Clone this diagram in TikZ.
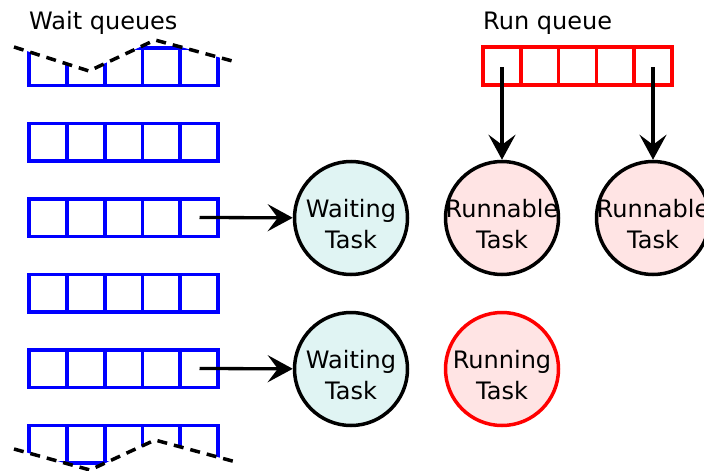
\documentclass[tikz,border=0pt]{standalone}
\usepackage{fontspec}
\setmainfont{DejaVu Sans}
\usetikzlibrary{arrows.meta}
\definecolor{waitfill}{HTML}{E0F4F3}
\definecolor{runfill}{HTML}{FFE4E4}

\begin{document}
\begin{tikzpicture}[x=1pt, y=-1pt, >={Stealth[length=25pt, width=27pt, inset=10pt]},
  font=\fontsize{24}{31}\selectfont,
  cell/.style={blue, line width=3.8pt},
  runcell/.style={red, line width=3.5pt},
  tear/.style={line width=3.5pt, dash pattern=on 10pt off 7pt},
  link/.style={->, line width=3.3pt},
  task/.style={circle, draw, line width=3.5pt, minimum size=113pt, inner sep=-10pt, align=center, text height=61pt}]

\useasboundingbox (0, 0) rectangle (704, 471);

% wait queues
\node[anchor=base west, inner sep=0pt] (waitlbl) at (29, 29) {Wait queues};

\begin{scope}
\clip (14, 47) -- (89, 71) -- (155, 40) -- (236, 62) -- (236, 100) -- (14, 100) -- cycle;
\foreach \c in {0,...,4}
  \draw[cell] ({29+37.8*\c}, 48) rectangle ++(37.8, 37.5);
\end{scope}
\draw[tear] (14, 47) -- (89, 71) -- (155, 40) -- (236, 62);

\foreach \y in {123.5, 199, 274.5, 350}
  \foreach \c in {0,...,4}
    \draw[cell] ({29+37.8*\c}, \y) rectangle ++(37.8, 37.5);

\begin{scope}
\clip (14, 449) -- (90, 470) -- (155, 440) -- (236, 462) -- (236, 410) -- (14, 410) -- cycle;
\foreach \c in {0,...,4}
  \draw[cell] ({29+37.8*\c}, 425.5) rectangle ++(37.8, 37.5);
\end{scope}
\draw[tear] (14, 449) -- (90, 470) -- (155, 440) -- (236, 462);

% run queue
\node[anchor=base west, inner sep=0pt] (runlbl) at (483, 29) {Run queue};
\foreach \c in {0,...,4}
  \draw[runcell] ({483+37.8*\c}, 47) rectangle ++(37.8, 38);

% tasks
\node[task, fill=waitfill] (wait1) at (351, 218) {Waiting\\Task};
\node[task, fill=waitfill] (wait2) at (351, 369) {Waiting\\Task};
\node[task, fill=runfill] (run1) at (502, 218) {Runnable\\Task};
\node[task, fill=runfill] (run2) at (653, 218) {Runnable\\Task};
\node[task, fill=runfill, draw=red] (running) at (502, 369) {Running\\Task};

\coordinate (wq3) at (199.5, 217.5);
\coordinate (wq5) at (199.5, 368.5);
\coordinate (rq1) at (502, 67);
\coordinate (rq5) at (653, 67);

\draw[link] (wq3) -- (wait1);
\draw[link] (wq5) -- (wait2);
\draw[link] (rq1) -- (run1);
\draw[link] (rq5) -- (run2);

\end{tikzpicture}
\end{document}
